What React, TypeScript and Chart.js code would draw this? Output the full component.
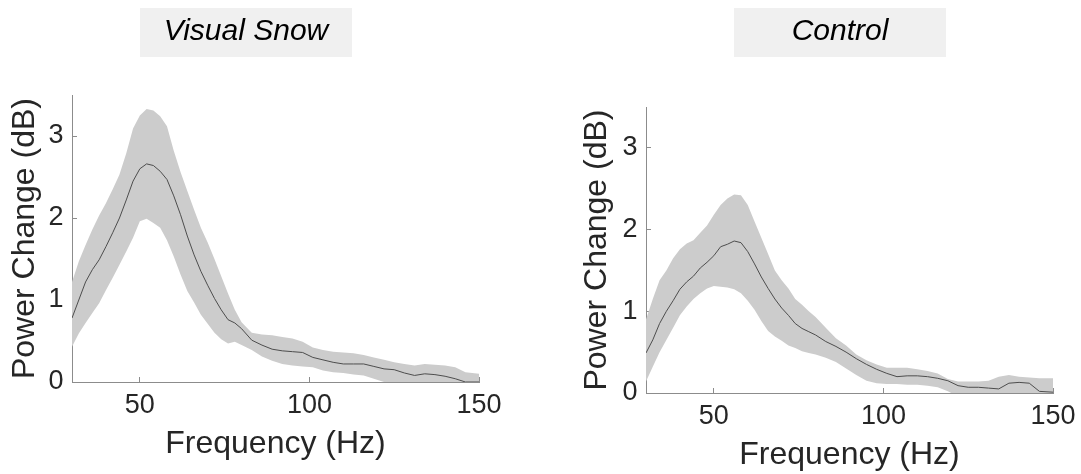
import React, { useEffect, useRef } from 'react';
import { Chart, registerables } from 'chart.js';

Chart.register(...registerables);

// ---------- data ----------
const freqHz = [30, 32, 34, 36, 38, 40, 42, 44, 46, 48, 50, 52, 54, 56, 58, 60, 62, 64, 66, 68, 70, 72, 74, 76, 78, 80,
  83, 86, 89, 92, 95, 98, 101, 104, 107, 110, 113, 116, 119, 122, 125, 128, 131, 134, 137, 140, 143, 146, 150];

const snowMean = [0.78, 1.0, 1.22, 1.37, 1.49, 1.65, 1.82, 2.0, 2.22, 2.45, 2.6, 2.66, 2.64, 2.57, 2.47, 2.27, 2.04, 1.78, 1.55, 1.35, 1.18, 1.02, 0.88, 0.76, 0.72, 0.65,
  0.51, 0.45, 0.4, 0.38, 0.37, 0.36, 0.3, 0.27, 0.24, 0.22, 0.22, 0.22, 0.19, 0.16, 0.15, 0.11, 0.08, 0.1, 0.09, 0.07, 0.04, 0.0, 0.0];
const snowUpper = [1.22, 1.47, 1.67, 1.86, 2.03, 2.18, 2.35, 2.53, 2.79, 3.09, 3.25, 3.33, 3.31, 3.24, 3.12, 2.82, 2.56, 2.33, 2.1, 1.88, 1.7, 1.5, 1.29, 1.08, 0.88, 0.73,
  0.6, 0.58, 0.57, 0.55, 0.53, 0.49, 0.42, 0.39, 0.37, 0.36, 0.35, 0.33, 0.3, 0.27, 0.24, 0.22, 0.2, 0.22, 0.21, 0.2, 0.18, 0.12, 0.1];
const snowLower = [0.43, 0.59, 0.72, 0.84, 0.96, 1.12, 1.27, 1.43, 1.59, 1.76, 1.96, 1.99, 1.94, 1.88, 1.73, 1.53, 1.31, 1.11, 0.97, 0.82, 0.71, 0.6, 0.52, 0.47, 0.49, 0.45,
  0.39, 0.31, 0.26, 0.22, 0.2, 0.19, 0.18, 0.14, 0.12, 0.11, 0.09, 0.08, 0.04, 0.0, -0.05, -0.06, -0.07, -0.06, -0.05, -0.06, -0.08, -0.1, -0.1];

const ctrlMean = [0.49, 0.65, 0.85, 1.0, 1.13, 1.27, 1.36, 1.43, 1.53, 1.6, 1.68, 1.79, 1.82, 1.86, 1.84, 1.73, 1.58, 1.42, 1.28, 1.15, 1.04, 0.95, 0.85, 0.79, 0.75, 0.71,
  0.63, 0.57, 0.5, 0.42, 0.35, 0.29, 0.24, 0.2, 0.21, 0.21, 0.2, 0.18, 0.15, 0.09, 0.07, 0.07, 0.06, 0.05, 0.12, 0.13, 0.12, 0.02, 0.01];
const ctrlUpper = [0.9, 1.15, 1.38, 1.5, 1.65, 1.76, 1.83, 1.87, 1.96, 2.05, 2.18, 2.3, 2.38, 2.43, 2.42, 2.3, 2.1, 1.9, 1.7, 1.5, 1.38, 1.28, 1.15, 1.08, 1.0, 0.93,
  0.8, 0.67, 0.58, 0.47, 0.4, 0.35, 0.31, 0.31, 0.31, 0.29, 0.27, 0.24, 0.17, 0.14, 0.14, 0.14, 0.15, 0.2, 0.22, 0.2, 0.19, 0.18, 0.18];
const ctrlLower = [0.14, 0.32, 0.5, 0.65, 0.8, 0.95, 1.06, 1.15, 1.22, 1.28, 1.31, 1.3, 1.29, 1.27, 1.22, 1.13, 1.02, 0.88, 0.76, 0.69, 0.64, 0.58, 0.55, 0.51, 0.49, 0.47,
  0.43, 0.38, 0.3, 0.22, 0.15, 0.12, 0.11, 0.11, 0.1, 0.1, 0.09, 0.07, 0.02, -0.04, -0.06, -0.07, -0.08, -0.08, -0.09, -0.09, -0.1, -0.1, -0.1];

const xTickValues = [50, 100, 150];
const yTickValues = [0, 1, 2, 3];
const panelTitles = ['Visual Snow', 'Control'];
const xAxisTitle = 'Frequency (Hz)';
const yAxisTitle = 'Power Change (dB)';

// ---------- styles ----------
const FONT = '"Liberation Sans", Arial, Helvetica, sans-serif';
const TEXT = '#262626';
const AXIS = '#8c8c8c';
const BAND = 'rgb(204,204,204)';
const LINE = '#4d4d4d';

const titleBoxPlugin = {
  id: 'titleBox',
  beforeDraw(chart: any, _args: any, opts: any) {
    const { ctx } = chart;
    ctx.save();
    ctx.fillStyle = '#f0f0f0';
    ctx.fillRect(opts.x, opts.y, opts.w, opts.h);
    ctx.font = `italic 30px ${FONT}`;
    ctx.fillStyle = '#000000';
    ctx.textAlign = 'center';
    ctx.textBaseline = 'middle';
    ctx.fillText(opts.text, opts.x + opts.w / 2, opts.y + opts.h / 2 - 1.2);
    ctx.restore();
  },
};

type PanelCfg = {
  title: string;
  mean: number[];
  upper: number[];
  lower: number[];
  left: number;
  width: number;
  padTop: number;
  padRight: number;
  xScaleH: number;
  xTitlePadBottom: number;
  yTitlePadTop: number;
  box: { x: number; y: number; w: number; h: number };
};

const toPts = (vals: number[]) => freqHz.map((f, i) => ({ x: f, y: vals[i] }));

function Panel({ cfg }: { cfg: PanelCfg }) {
  const ref = useRef<HTMLCanvasElement>(null);
  useEffect(() => {
    if (!ref.current) return;
    const chart = new Chart(ref.current, {
      type: 'line',
      data: {
        datasets: [
          {
            data: toPts(cfg.mean),
            borderColor: LINE,
            borderWidth: 1,
            pointRadius: 0,
            fill: false,
            tension: 0,
          },
          {
            data: toPts(cfg.upper),
            borderWidth: 0,
            borderColor: 'rgba(0,0,0,0)',
            backgroundColor: BAND,
            pointRadius: 0,
            fill: '+1',
            tension: 0,
          },
          {
            data: toPts(cfg.lower),
            borderWidth: 0,
            borderColor: 'rgba(0,0,0,0)',
            pointRadius: 0,
            fill: false,
            tension: 0,
          },
        ],
      },
      options: {
        responsive: false,
        animation: false,
        events: [],
        layout: { padding: { top: cfg.padTop, right: cfg.padRight, left: 0, bottom: 0 } },
        plugins: {
          legend: { display: false },
          tooltip: { enabled: false },
          titleBox: { ...cfg.box, text: cfg.title },
        } as any,
        scales: {
          x: {
            type: 'linear',
            min: 30,
            max: 150,
            afterBuildTicks: (s: any) => {
              s.ticks = xTickValues.map((v) => ({ value: v }));
            },
            afterFit: (s: any) => {
              s.height = cfg.xScaleH;
              s.paddingLeft = 0;
              s.paddingRight = 0;
            },
            ticks: {
              font: { size: 27, family: FONT },
              color: TEXT,
              padding: 12.5,
              maxRotation: 0,
              autoSkip: false,
            },
            grid: { drawOnChartArea: false, drawTicks: true, tickLength: -5, color: AXIS },
            border: { display: true, color: AXIS, width: 1 },
            title: {
              display: true,
              text: xAxisTitle,
              color: TEXT,
              font: { size: 32, family: FONT },
              padding: { top: 0, bottom: cfg.xTitlePadBottom },
            },
          },
          y: {
            type: 'linear',
            min: 0,
            max: 3.5,
            afterBuildTicks: (s: any) => {
              s.ticks = yTickValues.map((v) => ({ value: v }));
            },
            afterFit: (s: any) => {
              s.width = 72;
            },
            ticks: {
              font: { size: 27, family: FONT },
              color: TEXT,
              padding: 13.4,
            },
            grid: { drawOnChartArea: false, drawTicks: true, tickLength: -5, color: AXIS },
            border: { display: true, color: AXIS, width: 1 },
            title: {
              display: true,
              text: yAxisTitle,
              color: TEXT,
              font: { size: 32, family: FONT },
              padding: { top: cfg.yTitlePadTop, bottom: 0 },
            },
          },
        },
      } as any,
      plugins: [titleBoxPlugin],
    });
    return () => chart.destroy();
  }, []);
  return (
    <canvas
      ref={ref}
      width={cfg.width}
      height={474}
      style={{ position: 'absolute', left: cfg.left, top: 0, width: cfg.width, height: 474, display: 'block' }}
    />
  );
}

const panels: PanelCfg[] = [
  {
    title: panelTitles[0],
    mean: snowMean,
    upper: snowUpper,
    lower: snowLower,
    left: 0,
    width: 520,
    padTop: 95,
    padRight: 41,
    xScaleH: 92,
    xTitlePadBottom: 10.9,
    yTitlePadTop: 5.8,
    box: { x: 140, y: 8, w: 212, h: 49 },
  },
  {
    title: panelTitles[1],
    mean: ctrlMean,
    upper: ctrlUpper,
    lower: ctrlLower,
    left: 574,
    width: 507,
    padTop: 107,
    padRight: 28,
    xScaleH: 81,
    xTitlePadBottom: 0,
    yTitlePadTop: 4,
    box: { x: 160, y: 8, w: 212, h: 49 },
  },
];

export default function App() {
  return (
    <div style={{ position: 'absolute', left: 0, top: 0, width: 1081, height: 474, overflow: 'hidden', background: '#ffffff' }}>
      {panels.map((p, i) => (
        <Panel key={i} cfg={p} />
      ))}
    </div>
  );
}
